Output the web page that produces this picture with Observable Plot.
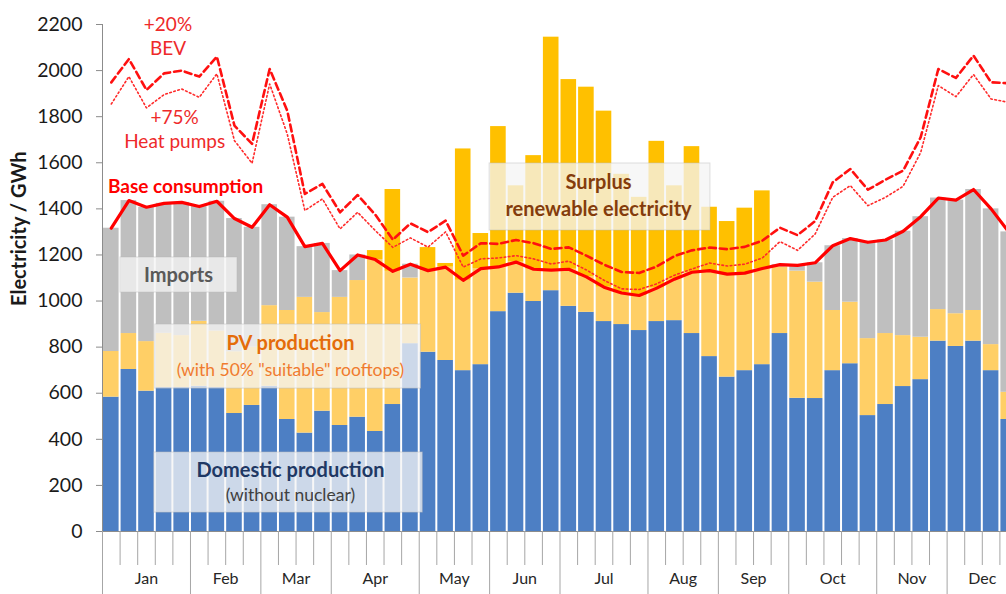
<!DOCTYPE html>
<html>
<head>
<meta charset="utf-8">
<script src="https://cdn.jsdelivr.net/npm/d3@7"></script>
<script src="https://cdn.jsdelivr.net/npm/@observablehq/plot@0.6"></script>
<style>
html, body { margin: 0; padding: 0; overflow: hidden; background: #fff; }
#chart { width: 1006px; height: 594px; overflow: hidden; position: relative; }
</style>
</head>
<body>
<div id="chart"></div>
<script>
// ---------- DATA (GWh per week) ----------
const months = ["Jan","Feb","Mar","Apr","May","Jun","Jul","Aug","Sep","Oct","Nov","Dec"];
const weeksPerMonth = [5,4,4,5,4,4,5,4,4,5,4,4];

const domestic = [583,703,609,625,625,630,625,512,547,630,
                  486,427,522,460,496,434,551,815,778,742,
                  698,724,954,1034,998,1045,977,951,911,898,
                  872,911,915,859,759,670,698,724,859,578,
                  577,698,728,503,551,629,659,826,803,826,
                  698,486];
const pvProduction = [198,156,215,235,225,282,245,268,253,350,
                      473,589,428,556,593,785,933,285,454,421,
                      962,569,803,466,633,1100,984,977,913,652,
                      578,782,585,811,648,675,705,754,289,552,
                      505,261,267,334,308,221,184,137,142,133,
                      113,118];
const baseConsumption = [1316,1436,1407,1424,1428,1410,1433,1358,1320,1418,
                         1364,1236,1250,1132,1200,1180,1129,1160,1132,1147,
                         1090,1141,1148,1169,1138,1134,1138,1105,1060,1035,
                         1024,1056,1095,1125,1132,1117,1121,1141,1158,1155,
                         1166,1240,1271,1255,1265,1303,1366,1447,1438,1484,
                         1400,1300];
const withHeatPumps = [1855,1974,1838,1896,1920,1884,1986,1696,1598,1942,
                       1725,1393,1443,1313,1385,1306,1233,1274,1234,1300,
                       1147,1183,1187,1197,1183,1161,1173,1135,1090,1053,
                       1050,1075,1112,1139,1165,1152,1160,1187,1258,1220,
                       1291,1450,1501,1414,1450,1498,1645,1935,1887,1983,
                       1877,1862];
const withBEV = [1949,2050,1916,1988,2000,1974,2061,1761,1682,2007,
                 1826,1465,1508,1385,1460,1375,1266,1337,1299,1349,
                 1197,1251,1248,1265,1251,1226,1233,1197,1158,1126,
                 1122,1150,1195,1220,1232,1225,1235,1262,1318,1286,
                 1347,1515,1573,1483,1527,1566,1711,2007,1968,2065,
                 1949,1945];

const seriesNames = ["Domestic production","PV production","Imports","Surplus"];
const seriesColors = ["#4d7fc4","#ffcf66","#bfbfbf","#ffc000"];
const yTicks = [0,200,400,600,800,1000,1200,1400,1600,1800,2000,2200];

// annotation labels (week position, GWh value)
const labels = [
  {text:"+20%", week:4.22, value:2200, color:"#ee2a2a", bold:false, size:19},
  {text:"BEV", week:4.22, value:2095, color:"#ee2a2a", bold:false, size:19},
  {text:"+75%", week:4.6, value:1794, color:"#ee2a2a", bold:false, size:19},
  {text:"Heat pumps", week:4.6, value:1690, color:"#ee2a2a", bold:false, size:19},
  {text:"Base consumption", week:5.22, value:1497, color:"#ff0000", bold:true, size:19},
  {text:"Imports", week:4.82, value:1110, color:"#595959", bold:true, size:20},
  {text:"PV production", week:11.18, value:816, color:"#e46c0a", bold:true, size:20},
  {text:"(with 50% \"suitable\" rooftops)", week:11.18, value:699, color:"#f07b2e", bold:false, size:17.5},
  {text:"Domestic production", week:11.18, value:265, color:"#1f3864", bold:true, size:20},
  {text:"(without nuclear)", week:11.18, value:156, color:"#404040", bold:false, size:17.5},
  {text:"Surplus", week:28.69, value:1512, color:"#843c0c", bold:true, size:20},
  {text:"renewable electricity", week:28.69, value:1395, color:"#843c0c", bold:true, size:20}
];
const labelBoxes = [
  {w1:1.52, w2:8.17, v1:1037, v2:1189},
  {w1:3.5, w2:18.6, v1:620, v2:898},
  {w1:3.45, w2:18.7, v1:82, v2:343},
  {w1:22.5, w2:35.05, v1:1306, v2:1597}
];

// ---------- derived tables ----------
const weeks = d3.range(1, domestic.length + 1);
const rows = [];
weeks.forEach((w, i) => {
  const dom = domestic[i], pv = pvProduction[i], base = baseConsumption[i];
  const pvBelow = Math.max(0, Math.min(pv, base - dom));
  const imports = Math.max(0, base - dom - pv);
  const surplus = Math.max(0, dom + pv - base);
  let y = 0;
  [[seriesNames[0], dom],[seriesNames[1], pvBelow],[seriesNames[2], imports],[seriesNames[3], surplus]]
    .forEach(([s, v]) => { if (v > 0) rows.push({week: w, series: s, y1: y, y2: y + v}); y += v; });
});
const lineRows = weeks.map((w, i) => ({week: w, base: baseConsumption[i], hp: withHeatPumps[i], bev: withBEV[i]}));

const monthStarts = [];
let acc = 0;
weeksPerMonth.forEach(n => { monthStarts.push(acc); acc += n; });
const monthBounds = monthStarts.map(s => s + 0.5);
const weekBounds = d3.range(0, weeks.length + 1).map(k => k + 0.5).filter(b => !monthBounds.includes(b));
const monthLabels = months.map((m, i) => ({month: m, mid: monthStarts[i] + weeksPerMonth[i] / 2 + 0.5}));

const W = 1017, H = 620, mL = 102, mT = 24, mB = 89;
const frameH = H - mT - mB;

const marks = [
  Plot.rect(rows, {x1: d => d.week - 0.5, x2: d => d.week + 0.5, y1: "y1", y2: "y2", fill: "series", insetLeft: 1, insetRight: 1}),
  Plot.ruleY([0], {stroke: "#8c8c8c", strokeWidth: 1}),
  Plot.ruleX(weekBounds, {x: d => d, insetTop: frameH, insetBottom: -34, stroke: "#a6a6a6", strokeWidth: 1}),
  Plot.ruleX(monthBounds, {x: d => d, insetTop: frameH, insetBottom: -90, stroke: "#a6a6a6", strokeWidth: 1}),
  Plot.ruleX([0.5], {x: d => d, y1: 0, y2: 2200, stroke: "#8c8c8c", strokeWidth: 1}),
  Plot.axisY({ticks: yTicks, tickFormat: d => String(d), tickSize: 6, tickPadding: 14, fontSize: 19.5, label: null, stroke: "#8c8c8c", fill: "#1a1a1a"}),
  Plot.text(monthLabels, {x: "mid", text: "month", frameAnchor: "bottom", dy: 52, fontSize: 16, fill: "#262626"}),
  Plot.text(["Electricity / GWh"], {frameAnchor: "left", dx: -83, dy: 28, rotate: -90, fontSize: 20, fontWeight: "bold", fill: "#1a1a1a"}),
  Plot.line(lineRows, {x: "week", y: "hp", stroke: "#ff2a2a", strokeWidth: 1.6, strokeDasharray: "1.6,2.6"}),
  Plot.line(lineRows, {x: "week", y: "bev", stroke: "#ff1010", strokeWidth: 2.6, strokeDasharray: "7,4"}),
  Plot.line(lineRows, {x: "week", y: "base", stroke: "#ff0000", strokeWidth: 3.2}),
  Plot.rect(labelBoxes, {x1: "w1", x2: "w2", y1: "v1", y2: "v2", fill: "#f4f4f4", fillOpacity: 0.76, stroke: "#b8b8b8", strokeOpacity: 0.45})
];
labels.forEach(l => {
  marks.push(Plot.text([l], {x: "week", y: "value", text: "text", fill: l.color, fontSize: l.size, fontWeight: l.bold ? "bold" : "normal"}));
});

const chart = Plot.plot({
  width: W, height: H,
  marginLeft: mL, marginRight: 0, marginTop: mT, marginBottom: mB,
  style: {fontFamily: "Lato, 'Open Sans', sans-serif", maxWidth: "none", background: "#fff"},
  x: {domain: [0.5, weeks.length + 0.5], axis: null},
  y: {domain: [0, 2200]},
  color: {domain: seriesNames, range: seriesColors},
  marks
});
document.getElementById("chart").appendChild(chart);
</script>
</body>
</html>
